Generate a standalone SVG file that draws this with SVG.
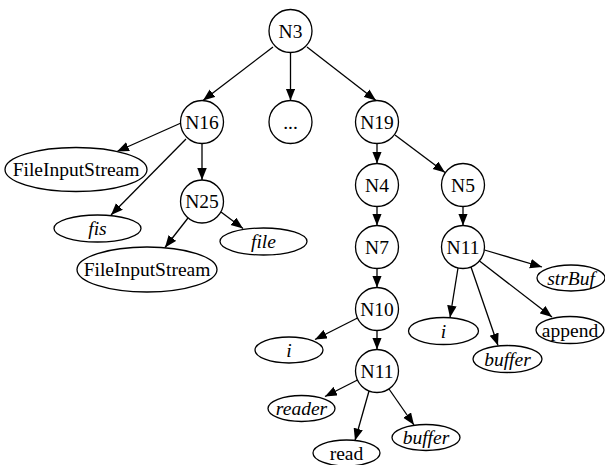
<svg xmlns="http://www.w3.org/2000/svg" width="605" height="465" viewBox="0 0 605 465" font-family="'Liberation Serif', 'Times New Roman', Times, serif">
<defs>
<marker id="arr" markerWidth="12" markerHeight="10" refX="12" refY="4.75" orient="auto" markerUnits="userSpaceOnUse">
<path d="M0,0 L12,4.75 L0,9.5 z" fill="#000"/>
</marker>
<style>
.n circle, .n ellipse { fill: #fff; stroke: #000; stroke-width: 1.3; }
.n text { font-family: 'Liberation Serif', 'Times New Roman', Times, serif; font-size: 19.5px; text-anchor: middle; fill: #000; }
.n text.it { font-style: italic; }
#edges line { stroke: #000; stroke-width: 1.3; marker-end: url(#arr); }
</style>
</defs>
<rect width="605" height="465" fill="#fff"/>
<g id="edges">
<line x1="273" y1="47" x2="203" y2="100.5"/>
<line x1="290.5" y1="52.5" x2="290.5" y2="100.5"/>
<line x1="307" y1="47" x2="376" y2="100.5"/>
<line x1="181" y1="123" x2="117" y2="151.5"/>
<line x1="186" y1="139" x2="111" y2="215"/>
<line x1="202" y1="143.5" x2="202" y2="180"/>
<line x1="188" y1="218" x2="165" y2="247.5"/>
<line x1="221" y1="212" x2="243" y2="228.5"/>
<line x1="377" y1="143.5" x2="377" y2="163.5"/>
<line x1="395" y1="135" x2="445" y2="172.5"/>
<line x1="377" y1="206.5" x2="377" y2="225.5"/>
<line x1="463" y1="206.5" x2="463" y2="225.5"/>
<line x1="377" y1="268.5" x2="377" y2="287.5"/>
<line x1="377" y1="330.5" x2="377" y2="349.5"/>
<line x1="484.5" y1="250" x2="542" y2="267"/>
<line x1="458" y1="268" x2="450" y2="317.5"/>
<line x1="471" y1="267" x2="498" y2="345.5"/>
<line x1="479.5" y1="261" x2="552" y2="317"/>
<line x1="357.5" y1="318" x2="315" y2="339.5"/>
<line x1="357.5" y1="380" x2="325" y2="396.5"/>
<line x1="369" y1="391" x2="355" y2="440.5"/>
<line x1="389" y1="389" x2="414" y2="425"/>
</g>
<g id="N3" class="n"><circle cx="290.5" cy="31" r="21.5"/><text x="290.5" y="37.5">N3</text></g>
<g id="N16" class="n"><circle cx="202" cy="122" r="21.5"/><text x="202" y="128.5">N16</text></g>
<g id="dots" class="n"><circle cx="290.5" cy="122" r="21.5"/><text x="290.5" y="128.5">...</text></g>
<g id="N19" class="n"><circle cx="377" cy="122" r="21.5"/><text x="377" y="128.5">N19</text></g>
<g id="FIS1" class="n"><ellipse cx="76" cy="169.5" rx="71" ry="22"/><text x="76" y="176">FileInputStream</text></g>
<g id="fis" class="n"><ellipse cx="97.5" cy="228.5" rx="43.5" ry="13.5"/><text class="it" x="97.5" y="235">fis</text></g>
<g id="N25" class="n"><circle cx="202" cy="201.5" r="21.5"/><text x="202" y="208">N25</text></g>
<g id="file" class="n"><ellipse cx="263.5" cy="241.5" rx="43.5" ry="13.5"/><text class="it" x="263.5" y="248">file</text></g>
<g id="FIS2" class="n"><ellipse cx="147" cy="269.5" rx="70" ry="22.5"/><text x="147" y="276">FileInputStream</text></g>
<g id="N4" class="n"><circle cx="377" cy="185" r="21.5"/><text x="377" y="191.5">N4</text></g>
<g id="N5" class="n"><circle cx="463" cy="185" r="21.5"/><text x="463" y="191.5">N5</text></g>
<g id="N7" class="n"><circle cx="377" cy="247" r="21.5"/><text x="377" y="253.5">N7</text></g>
<g id="N11r" class="n"><circle cx="463" cy="247" r="21.5"/><text x="463" y="253.5">N11</text></g>
<g id="strBuf" class="n"><ellipse cx="571" cy="278" rx="34" ry="13"/><text class="it" x="571" y="284.5">strBuf</text></g>
<g id="N10" class="n"><circle cx="377" cy="309" r="21.5"/><text x="377" y="315.5">N10</text></g>
<g id="N11l" class="n"><circle cx="377" cy="371" r="21.5"/><text x="377" y="377.5">N11</text></g>
<g id="i1" class="n"><ellipse cx="289" cy="350" rx="34" ry="13"/><text class="it" x="289" y="356.5">i</text></g>
<g id="reader" class="n"><ellipse cx="301.5" cy="408.5" rx="33.5" ry="13"/><text class="it" x="301.5" y="415">reader</text></g>
<g id="read" class="n"><ellipse cx="346.5" cy="453" rx="33.5" ry="13"/><text x="346.5" y="459.5">read</text></g>
<g id="buffer1" class="n"><ellipse cx="426" cy="437.5" rx="34" ry="13"/><text class="it" x="426" y="444">buffer</text></g>
<g id="i2" class="n"><ellipse cx="443.5" cy="331" rx="35" ry="13.5"/><text class="it" x="443.5" y="337.5">i</text></g>
<g id="buffer2" class="n"><ellipse cx="507.5" cy="359" rx="34.5" ry="13.5"/><text class="it" x="507.5" y="365.5">buffer</text></g>
<g id="append" class="n"><ellipse cx="570" cy="330" rx="34" ry="13.5"/><text x="570" y="336.5">append</text></g>
</svg>
